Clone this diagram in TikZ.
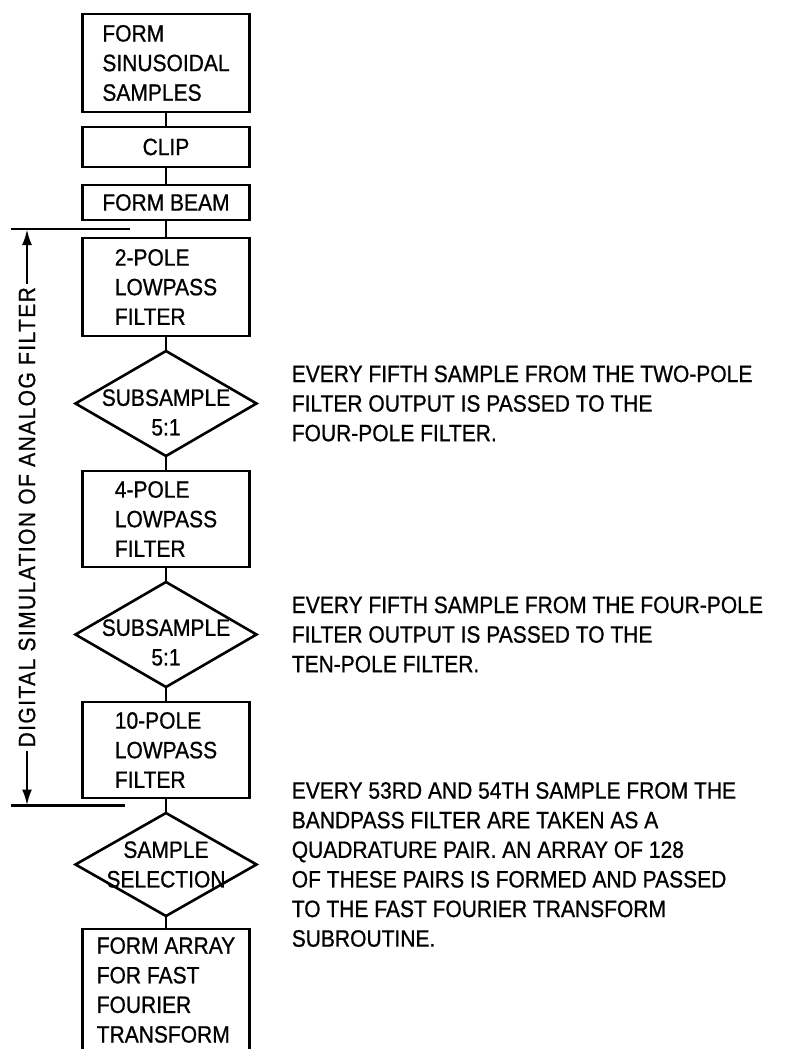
\documentclass[tikz,border=0pt]{standalone}
\usepackage{fontspec}
\setmainfont{Liberation Sans}[FakeStretch=0.89, FakeBold=0.8]
\usetikzlibrary{positioning,arrows.meta,shapes.geometric,calc}

\begin{document}
\begin{tikzpicture}[node distance=7.5pt, line width=1.3pt,
  every node/.style={font=\fontsize{11.8}{14.8}\selectfont},
  blk/.style={draw, align=left, minimum width=83.5pt, inner sep=0pt, outer sep=0pt},
  dec/.style={draw, diamond, minimum width=90.5pt, minimum height=52.5pt, inner sep=0pt, outer sep=0pt},
  note/.style={align=left, inner sep=0pt}]
\path[use as bounding box, fill=white] (-83pt,7pt) rectangle (309.5pt,-517.5pt);
% main chain
\node[blk, minimum height=49pt, anchor=north] (samp) at (0,0) {FORM\\SINUSOIDAL\\SAMPLES};
\node[blk, minimum height=20pt, below=of samp] (clip) {CLIP};
\node[blk, minimum height=17.5pt, below=9pt of clip] (beam) {FORM BEAM};
\node[blk, minimum height=49pt, below=9pt of beam] (lp2) {2-POLE\\LOWPASS\\FILTER};
\node[dec, below=of lp2, label={[align=center, yshift=-4.5pt]center:{SUBSAMPLE\\5:1}}] (sub1) {};
\node[blk, minimum height=48pt, below=of sub1] (lp4) {4-POLE\\LOWPASS\\FILTER};
\node[dec, below=of lp4, label={[align=center, yshift=-4pt]center:{SUBSAMPLE\\5:1}}] (sub2) {};
\node[blk, minimum height=48pt, below=of sub2] (lp10) {10-POLE\\LOWPASS\\FILTER};
\node[dec, minimum height=51.5pt, below=of lp10, label={[align=center]center:{SAMPLE\\SELECTION}}] (sel) {};
\node[blk, minimum height=61pt, below=6.5pt of sel] (arr) {FORM ARRAY\\FOR FAST\\FOURIER\\TRANSFORM};
\foreach \a/\b in {samp/clip, clip/beam, beam/lp2, lp2/sub1, sub1/lp4, lp4/sub2, sub2/lp10, lp10/sel, sel/arr}
  \draw (\a) -- (\b);
% notes
\node[note, right=17pt of sub1] (n1) {EVERY FIFTH SAMPLE FROM THE TWO-POLE\\FILTER OUTPUT IS PASSED TO THE\\FOUR-POLE FILTER.};
\node[note, right=17pt of sub2] (n2) {EVERY FIFTH SAMPLE FROM THE FOUR-POLE\\FILTER OUTPUT IS PASSED TO THE\\TEN-POLE FILTER.};
\node[note, right=17pt of sel] (n3) {EVERY 53RD AND 54TH SAMPLE FROM THE\\BANDPASS FILTER ARE TAKEN AS A\\QUADRATURE PAIR. AN ARRAY OF 128\\OF THESE PAIRS IS FORMED AND PASSED\\TO THE FAST FOURIER TRANSFORM\\SUBROUTINE.};
% span of the analog filter simulation
\coordinate (dtop) at ($(beam.south)!0.5!(lp2.north)$);
\coordinate (dbot) at ($(lp10.south)!0.5!(sel.north)$);
\draw ([xshift=-77.5pt]dtop) -- ([xshift=-18pt]dtop);
\draw ([xshift=-77.5pt]dbot) -- ([xshift=-20.5pt]dbot);
\node[rotate=90, inner sep=1pt, font=\fontsize{11.8}{14.8}\selectfont\addfontfeature{LetterSpace=6}] (span) at ($(dtop)!0.5!(dbot)+(-69.5pt,0)$) {DIGITAL SIMULATION OF ANALOG FILTER};
\draw[-{Latex[length=8pt,width=5pt]}] (span.east) -- (span.east |- dtop);
\draw[-{Latex[length=8pt,width=5pt]}] (span.west) -- (span.west |- dbot);
\end{tikzpicture}
\end{document}
